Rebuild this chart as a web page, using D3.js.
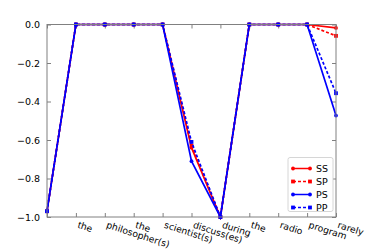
<!DOCTYPE html>
<html>
<head>
<meta charset="utf-8">
<script src="https://cdn.jsdelivr.net/npm/d3@7"></script>
<style>
  body { margin: 0; background: #fff; }
  text { font-family: "DejaVu Sans", sans-serif; }
</style>
</head>
<body>
<div id="chart"></div>
<script>
// Data
const words = ["", "the", "philosopher(s)", "the", "scientist(s)", "discuss(es)", "during", "the", "radio", "program", "rarely"];
const ss = [-0.97, 0, 0, 0, 0, -0.64, -1.0, 0, 0, 0, -0.018];
const sp = [-0.97, 0, 0, 0, 0, -0.63, -1.0, 0, 0, 0, -0.059];
const ps = [-0.97, 0, 0, 0, 0, -0.71, -1.0, 0, 0, 0, -0.473];
const pp = [-0.97, 0, 0, 0, 0, -0.61, -1.0, 0, 0, 0, -0.357];
const yTicks = [0.0, -0.2, -0.4, -0.6, -0.8, -1.0];

const series = [
  { name: "SS", values: ss, color: "#ff0000", dash: null, marker: "circle" },
  { name: "SP", values: sp, color: "#ff0000", dash: "3,2", marker: "square" },
  { name: "PS", values: ps, color: "#0000ff", dash: null, marker: "circle" },
  { name: "PP", values: pp, color: "#0000ff", dash: "3,2", marker: "square" }
];

const W = 374, H = 249;
const margin = { top: 24.5, right: 38, bottom: 32, left: 47 };
const width = W - margin.left - margin.right;
const height = H - margin.top - margin.bottom;

const svg = d3.select("#chart").append("svg")
  .attr("width", W).attr("height", H);
const g = svg.append("g")
  .attr("transform", `translate(${margin.left},${margin.top})`);

const x = d3.scaleLinear().domain([0, words.length - 1]).range([0, width]);
const y = d3.scaleLinear().domain([-1, 0]).range([height, 0]);

const axisColor = "#808080";

// Ticks (inward, all four sides)
g.append("g")
  .attr("transform", `translate(0,${height})`)
  .call(d3.axisBottom(x).tickValues(d3.range(words.length)).tickSize(-4).tickFormat(""))
  .call(a => a.select(".domain").remove())
  .call(a => a.selectAll("line").attr("stroke", axisColor));
g.append("g")
  .call(d3.axisTop(x).tickValues(d3.range(words.length)).tickSize(-4).tickFormat(""))
  .call(a => a.select(".domain").remove())
  .call(a => a.selectAll("line").attr("stroke", axisColor));
g.append("g")
  .call(d3.axisLeft(y).tickValues(yTicks).tickSize(-4).tickPadding(7)
    .tickFormat(d => d3.format(".1f")(d).replace("-", "\u2212")))
  .call(a => a.select(".domain").remove())
  .call(a => a.selectAll("line").attr("stroke", axisColor))
  .call(a => a.selectAll("text").attr("fill", "#000").style("font-size", "9.5px"));
g.append("g")
  .attr("transform", `translate(${width},0)`)
  .call(d3.axisRight(y).tickValues(yTicks).tickSize(-4).tickFormat(""))
  .call(a => a.select(".domain").remove())
  .call(a => a.selectAll("line").attr("stroke", axisColor));

// Rotated x labels
g.append("g").selectAll("text")
  .data(words)
  .join("text")
  .attr("transform", (d, i) => `translate(${x(i) + 1},${height + 10.5}) rotate(18)`)
  .attr("text-anchor", "start")
  .style("font-size", "9.2px")
  .text(d => d);

// Lines
const line = vals => d3.line()
  .x((d, i) => x(i))
  .y(d => y(d))(vals);

series.forEach(s => {
  g.append("path")
    .attr("d", line(s.values))
    .attr("fill", "none")
    .attr("stroke", s.color)
    .attr("stroke-width", 1.7)
    .attr("stroke-dasharray", s.dash);
  if (s.marker === "circle") {
    g.selectAll(null).data(s.values).join("circle")
      .attr("cx", (d, i) => x(i)).attr("cy", d => y(d))
      .attr("r", 1.9).attr("fill", s.color);
  } else {
    g.selectAll(null).data(s.values).join("rect")
      .attr("x", (d, i) => x(i) - 1.9).attr("y", d => y(d) - 1.9)
      .attr("width", 3.8).attr("height", 3.8).attr("fill", s.color);
  }
});

// Frame
g.append("rect")
  .attr("width", width).attr("height", height)
  .attr("fill", "none").attr("stroke", axisColor).attr("stroke-width", 1);

// Legend
const leg = g.append("g")
  .attr("transform", `translate(${width - 48},${height - 59.5})`);
leg.append("rect")
  .attr("width", 45).attr("height", 54).attr("rx", 2)
  .attr("fill", "#fff").attr("stroke", "#cccccc").attr("stroke-width", 0.8);
series.forEach((s, i) => {
  const yy = 11 + i * 13;
  leg.append("line")
    .attr("x1", 5).attr("x2", 22).attr("y1", yy).attr("y2", yy)
    .attr("stroke", s.color).attr("stroke-width", 1.5)
    .attr("stroke-dasharray", s.dash);
  if (s.marker === "circle") {
    [5, 22].forEach(px => leg.append("circle").attr("cx", px).attr("cy", yy).attr("r", 1.9).attr("fill", s.color));
  } else {
    [5, 22].forEach(px => leg.append("rect").attr("x", px - 1.9).attr("y", yy - 1.9).attr("width", 3.8).attr("height", 3.8).attr("fill", s.color));
  }
  leg.append("text")
    .attr("x", 28).attr("y", yy + 3.5)
    .style("font-size", "9.5px")
    .text(s.name);
});
</script>
</body>
</html>
